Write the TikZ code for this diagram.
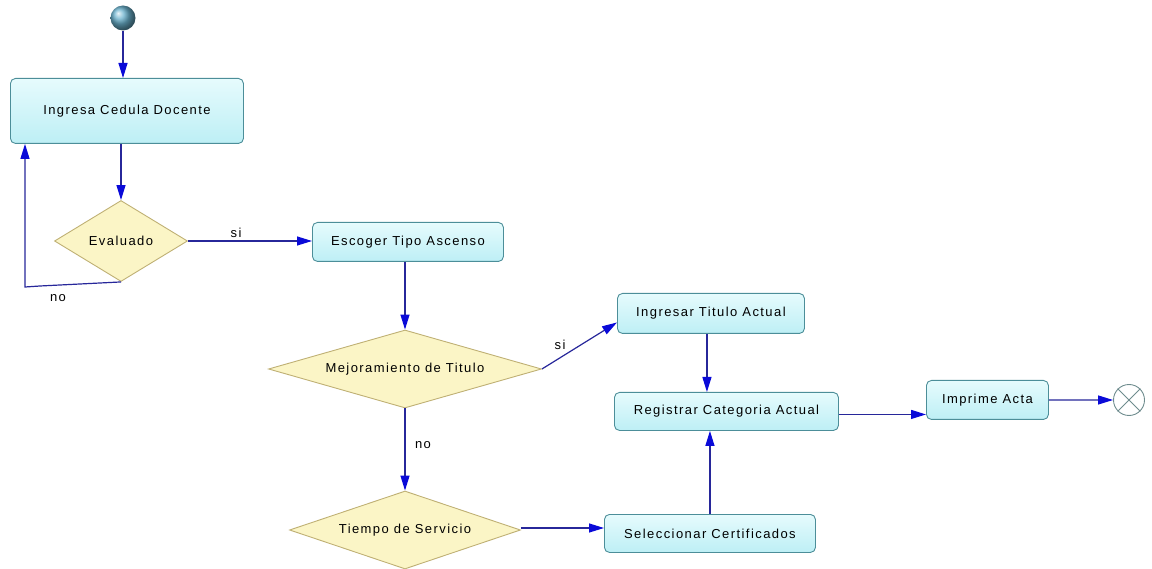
\documentclass[tikz,border=0pt]{standalone}
\usepackage{fontspec}
\setmainfont{Liberation Sans}
\usetikzlibrary{arrows.meta,shapes.geometric,calc}
\definecolor{boxedge}{HTML}{4C8E99}
\definecolor{boxtop}{HTML}{E6FBFD}
\definecolor{boxbot}{HTML}{BDEFF5}
\definecolor{decedge}{HTML}{BFB074}
\definecolor{decfill}{HTML}{FBF5C6}
\definecolor{flowline}{HTML}{27279A}
\definecolor{headblue}{HTML}{0A0AD8}
\definecolor{endedge}{HTML}{6E8C8E}
\definecolor{ballteal}{HTML}{6AB2CE}
\newfontfamily\diagfont[LetterSpace=11]{Liberation Sans}
\tikzset{
  every node/.style={font=\diagfont\fontsize{13}{15}\selectfont},
  activity/.style={draw=boxedge, line width=0.9pt, rounded corners=5pt,
    top color=boxtop, bottom color=boxbot, inner sep=0pt, anchor=north west},
  decision/.style={diamond, draw=decedge, line width=0.9pt, fill=decfill,
    inner sep=0pt},
  flow/.style={draw=flowline, line width=1.2pt,
    -{Triangle[length=15pt,width=9pt,fill=headblue,color=headblue]}},
  guard/.style={inner sep=0pt}
}
\begin{document}
\begin{tikzpicture}[x=1pt,y=-1pt]
\useasboundingbox (0,0) rectangle (1152,569);

% start and end markers
\node[circle, minimum size=25pt, inner sep=0pt, ball color=ballteal, draw=none] (start) at (123,18) {};
\node[circle, minimum size=31pt, inner sep=0pt, draw=endedge, line width=0.9pt, fill=white] (finish) at (1129,400) {};
\draw[endedge, line width=0.9pt] (finish.45) -- (finish.225) (finish.135) -- (finish.315);

% activities
\node[activity, minimum width=233pt, minimum height=65pt] (ced) at (10,78) {Ingresa Cedula Docente};
\node[activity, minimum width=191pt, minimum height=39pt] (esc) at (312,222) {Escoger Tipo Ascenso};
\node[activity, minimum width=187pt, minimum height=40pt] (ing) at (617,293) {Ingresar Titulo Actual};
\node[activity, minimum width=224pt, minimum height=38pt] (reg) at (614,392) {Registrar Categoria Actual};
\node[activity, minimum width=122pt, minimum height=39pt] (imp) at (926,380) {Imprime Acta};
\node[activity, minimum width=211pt, minimum height=38pt] (sel) at (604,514) {Seleccionar Certificados};

% decisions
\node[decision, minimum width=133pt, minimum height=81pt, aspect=1.64] (eval) at (121,241) {Evaluado};
\node[decision, minimum width=273pt, minimum height=78pt, aspect=3.5] (mej) at (405,369) {Mejoramiento de Titulo};
\node[decision, minimum width=231pt, minimum height=78pt, aspect=2.96] (tie) at (405,530) {Tiempo de Servicio};

% flows
\draw[flow] (start.south) -- (ced.north -| start.south);
\draw[flow] (ced.south -| eval.north) -- (eval.north);
\draw[flow] (eval.east) -- (esc.west |- eval.east);
\node[guard] (lsi1) at (236,233) {si};

\coordinate (loopc) at (25,287);
\draw[flow] (eval.south) -- (40,286) -- (loopc) -- (loopc |- ced.south);
\node[guard] (lno1) at (58,298) {no};

\draw[flow] (esc.south -| mej.north) -- (mej.north);
\draw[flow] (mej.east) -- ($(ing.west)+(0,9)$);
\node[guard] (lsi2) at (560,345) {si};

\draw[flow] ([xshift=-4pt]ing.south) -- ([xshift=-4pt]ing.south |- reg.north);
\draw[flow] ([yshift=-3pt]reg.east) -- ([yshift=-3pt]reg.east -| imp.west);
\draw[flow] (imp.east) -- (finish.west);

\draw[flow] (mej.south) -- (tie.north);
\node[guard] (lno2) at (423,445) {no};

\draw[flow] ([yshift=2pt]tie.east) -- ([yshift=2pt]tie.east -| sel.west);
\draw[flow] (sel.north) -- (sel.north |- reg.south);
\end{tikzpicture}
\end{document}
